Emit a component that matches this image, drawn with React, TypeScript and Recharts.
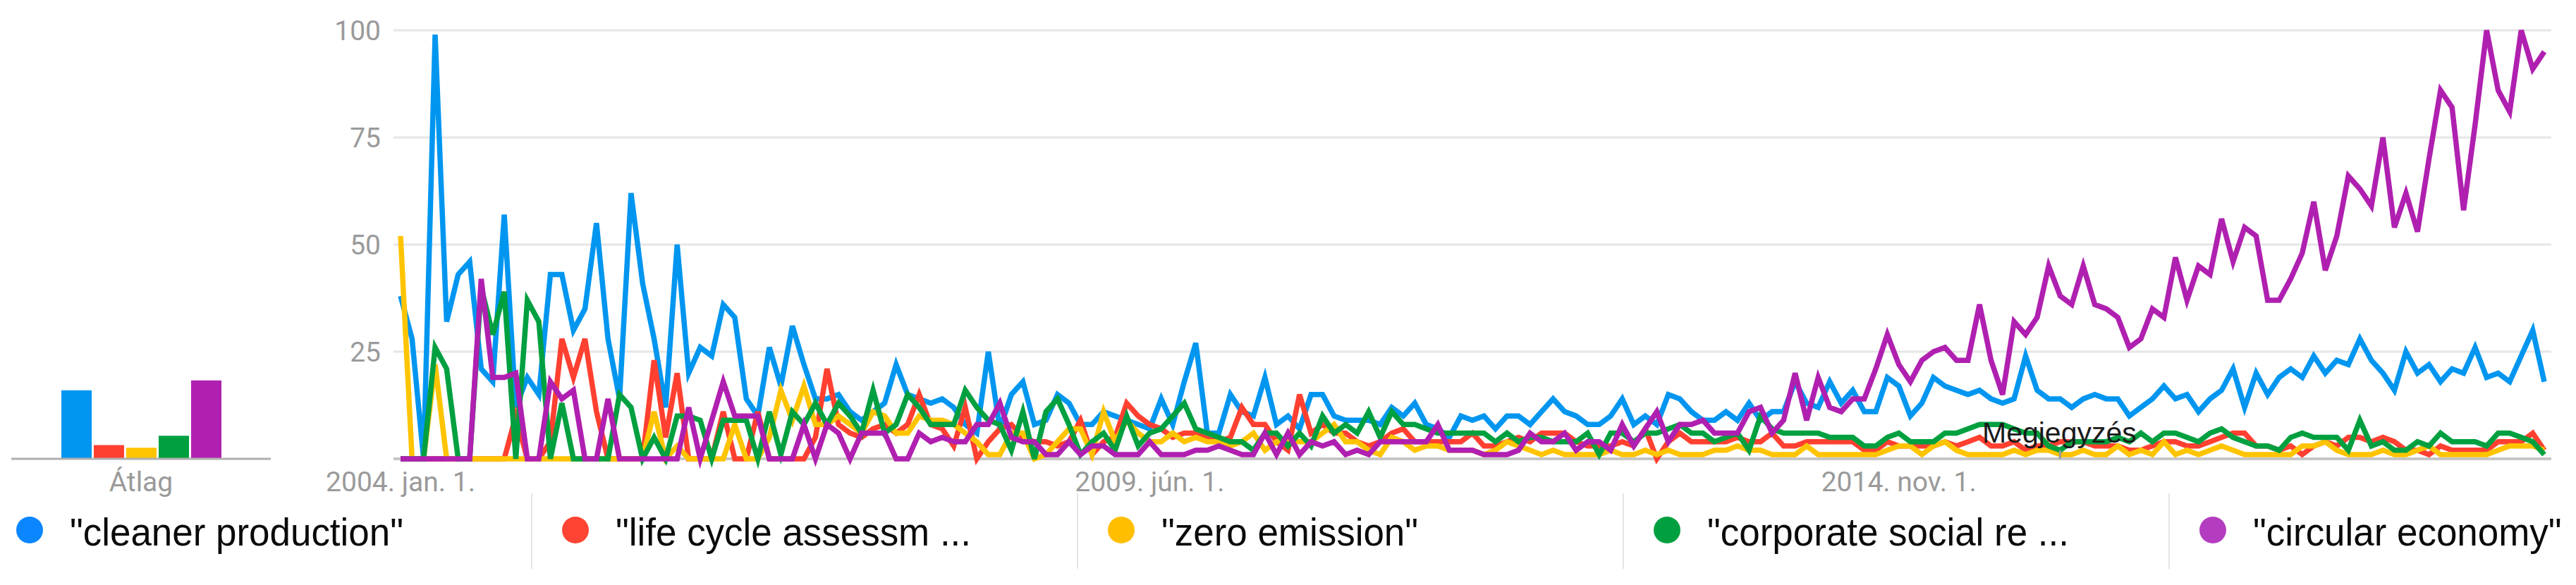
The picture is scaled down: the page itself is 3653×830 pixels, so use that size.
import React from 'react';
import { LineChart, Line, XAxis, YAxis, CartesianGrid, BarChart, Bar, ReferenceLine } from 'recharts';

// ---- categories: monthly, 2004 Jan .. 2019 Jul (187 months)
const months: string[] = Array.from({ length: 187 }, (_, i) => {
  const y = 2004 + Math.floor(i / 12);
  const m = (i % 12) + 1;
  return `${y}-${m < 10 ? '0' + m : m}`;
});

const tickIndices = [0, 65, 130];
const tickLabels = ['2004. jan. 1.', '2009. jún. 1.', '2014. nov. 1.'];
const yTicks = [0, 25, 50, 75, 100];
const noteIndex = 144;
const noteText = 'Megjegyzés';

const seriesNames = ['"cleaner production"', '"life cycle assessm ...', '"zero emission"', '"corporate social re ...', '"circular economy"'];
const seriesKeys = ['cleaner', 'lca', 'zero', 'csr', 'circular'];
const seriesColors = ['#0096F0', '#FF4030', '#FFC400', '#00A040', '#B020B0'];
const legendColors = ['#0A86FF', '#FF4433', '#FFBE00', '#00A040', '#B43CC0'];
const averages = [16, 3.2, 2.6, 5.4, 18.3];

const cleaner = [38, 28, 0, 99, 32, 43, 46, 21, 18, 57, 12, 19, 15, 43, 43, 30, 35, 55, 28, 14,
  62, 41, 28, 12, 50, 20, 26, 24, 36, 33, 14, 10, 26, 17, 31, 22, 14, 14, 15, 11,
  9, 11, 13, 22, 15, 14, 13, 14, 12, 8, 6, 25, 7, 15, 18, 8, 9, 15, 13, 8,
  8, 11, 10, 9, 8, 7, 14, 8, 18, 27, 6, 6, 15, 11, 10, 19, 8, 10, 7, 15,
  15, 10, 9, 9, 9, 8, 12, 10, 13, 8, 7, 5, 10, 9, 10, 7, 10, 10, 8, 11,
  14, 11, 10, 8, 8, 10, 14, 8, 10, 8, 15, 14, 11, 9, 9, 11, 9, 13, 9, 11,
  11, 18, 13, 12, 18, 13, 16, 11, 11, 19, 17, 10, 13, 19, 17, 16, 15, 16, 14, 13,
  14, 24, 16, 14, 14, 12, 14, 15, 14, 14, 10, 12, 14, 17, 14, 15, 11, 14, 16, 21,
  12, 20, 15, 19, 21, 19, 24, 20, 23, 22, 28, 23, 20, 16, 25, 20, 22, 18, 21, 20,
  26, 19, 20, 18, 24, 30, 18];

const lca = [0, 0, 0, 0, 0, 0, 0, 0, 0, 0, 10, 0, 0, 4, 28, 19, 28, 11, 0, 0,
  0, 0, 23, 5, 20, 0, 0, 0, 11, 0, 0, 11, 0, 0, 0, 0, 5, 21, 8, 6,
  5, 7, 8, 6, 8, 15, 8, 7, 3, 12, 0, 4, 7, 8, 5, 4, 4, 3, 4, 9,
  1, 4, 5, 13, 10, 8, 7, 5, 6, 6, 5, 4, 5, 12, 8, 8, 4, 2, 15, 6,
  8, 6, 6, 4, 3, 4, 6, 7, 4, 4, 4, 4, 4, 6, 3, 3, 4, 5, 4, 6,
  6, 6, 4, 3, 3, 3, 4, 3, 7, 0, 4, 6, 4, 4, 4, 4, 5, 4, 4, 6,
  3, 3, 4, 4, 4, 4, 4, 2, 2, 4, 3, 3, 3, 3, 4, 3, 4, 5, 3, 3,
  4, 2, 3, 3, 4, 4, 4, 3, 3, 3, 2, 2, 3, 4, 4, 3, 3, 4, 5, 6,
  6, 3, 3, 2, 3, 1, 3, 4, 3, 5, 5, 4, 5, 4, 2, 2, 1, 3, 2, 2,
  2, 2, 4, 4, 4, 6, 2];

const zero = [52, 0, 0, 22, 0, 0, 0, 0, 0, 0, 0, 0, 0, 0, 0, 0, 0, 0, 0, 0,
  0, 0, 11, 0, 3, 0, 0, 0, 0, 8, 0, 0, 5, 16, 9, 17, 8, 8, 10, 8,
  6, 11, 10, 6, 6, 10, 9, 9, 8, 6, 4, 1, 1, 6, 6, 0, 1, 4, 7, 7,
  1, 11, 4, 9, 6, 4, 4, 6, 4, 5, 4, 4, 3, 4, 6, 2, 4, 4, 4, 4,
  6, 8, 4, 4, 2, 1, 5, 4, 2, 3, 3, 2, 2, 2, 1, 2, 4, 3, 2, 1,
  2, 1, 1, 1, 1, 2, 1, 1, 2, 1, 2, 1, 1, 1, 2, 2, 3, 2, 2, 1,
  1, 1, 3, 1, 1, 1, 1, 1, 1, 2, 3, 3, 1, 3, 4, 2, 1, 1, 1, 1,
  2, 1, 2, 2, 1, 1, 2, 1, 1, 3, 1, 2, 1, 4, 1, 2, 1, 2, 3, 2,
  1, 1, 1, 1, 1, 3, 3, 4, 2, 1, 1, 1, 2, 1, 1, 2, 3, 1, 1, 1,
  1, 1, 2, 3, 3, 3, 2];

const csr = [0, 0, 0, 26, 21, 0, 0, 40, 29, 39, 0, 37, 32, 0, 13, 0, 0, 0, 0, 15,
  12, 0, 5, 0, 10, 10, 9, 0, 9, 9, 9, 0, 11, 1, 11, 8, 13, 8, 13, 10,
  6, 16, 6, 8, 15, 12, 8, 8, 8, 16, 12, 9, 8, 2, 11, 0, 11, 14, 8, 1,
  4, 6, 2, 10, 3, 6, 7, 10, 13, 7, 6, 5, 4, 4, 2, 6, 6, 3, 6, 3,
  10, 6, 8, 6, 11, 5, 11, 8, 8, 7, 6, 6, 6, 6, 6, 4, 6, 4, 5, 5,
  4, 4, 4, 6, 1, 6, 6, 4, 6, 6, 7, 8, 6, 6, 4, 5, 6, 2, 10, 7,
  6, 6, 6, 6, 5, 5, 5, 3, 3, 5, 6, 4, 4, 4, 6, 6, 7, 8, 8, 8,
  7, 6, 6, 3, 2, 4, 4, 4, 4, 5, 4, 6, 4, 6, 6, 5, 4, 6, 7, 5,
  4, 3, 3, 2, 5, 6, 5, 5, 5, 2, 9, 3, 4, 2, 2, 4, 3, 6, 4, 4,
  4, 3, 6, 6, 5, 4, 1];

const circular = [0, 0, 0, 0, 0, 0, 0, 42, 19, 19, 20, 0, 0, 18, 14, 16, 0, 0, 14, 0,
  0, 0, 0, 0, 0, 12, 0, 9, 18, 10, 10, 10, 0, 0, 0, 8, 0, 8, 6, 0,
  6, 6, 6, 0, 0, 6, 4, 5, 4, 4, 8, 8, 13, 5, 4, 4, 1, 1, 4, 1,
  3, 3, 1, 1, 1, 4, 1, 1, 1, 2, 2, 3, 2, 1, 1, 6, 1, 6, 1, 4,
  3, 4, 1, 2, 1, 4, 4, 4, 4, 4, 8, 2, 2, 2, 1, 1, 1, 2, 6, 4,
  4, 6, 2, 4, 4, 2, 8, 3, 7, 11, 4, 8, 8, 9, 6, 6, 6, 11, 12, 6,
  9, 20, 9, 19, 12, 11, 14, 14, 21, 29, 22, 18, 23, 25, 26, 23, 23, 36, 23, 15,
  32, 29, 33, 45, 38, 36, 45, 36, 35, 33, 26, 28, 35, 33, 47, 37, 45, 43, 56, 46,
  54, 52, 37, 37, 42, 48, 60, 44, 52, 66, 63, 59, 75, 54, 62, 53, 70, 86, 82, 58,
  78, 100, 86, 81, 100, 91, 95];

const seriesValues = [cleaner, lca, zero, csr, circular];

const data = months.map((m, i) => {
  const row: Record<string, number | string> = { i, month: m };
  seriesKeys.forEach((k, s) => { row[k] = seriesValues[s][i]; });
  return row;
});

const avgRow: Record<string, number | string> = { name: 'Átlag' };
seriesKeys.forEach((k, s) => { avgRow[k] = averages[s]; });
const avgData = [avgRow];

const AXIS_FONT = 'Roboto, "Liberation Sans", Arial, sans-serif';
const TEXT_FONT = '"Liberation Sans", Arial, sans-serif';

export default function App() {
  return (
    <div style={{ position: 'absolute', left: 0, top: 0, width: 3653, height: 830, background: '#ffffff', overflow: 'hidden' }}>
      <div style={{ position: 'absolute', left: 0, top: 0 }}>
        <LineChart width={3653} height={830} data={data} margin={{ top: 43, right: 35, left: 458, bottom: 119 }}>
          <CartesianGrid vertical={false} horizontalValues={[25, 50, 75, 100]} stroke="#e6e6e6" strokeWidth={3} />
          <CartesianGrid vertical={false} horizontalValues={[0]} stroke="#c6c6c6" strokeWidth={4} />
          <XAxis dataKey="i" type="number" domain={[0, 186]} ticks={tickIndices} interval={0}
            tickFormatter={(v: number) => tickLabels[tickIndices.indexOf(v)] ?? ''}
            padding={{ left: 10, right: 10 }} axisLine={false} tickLine={false} tickSize={0} tickMargin={18} height={60}
            tick={{ fill: '#9a9a9a', fontSize: 39, fontFamily: AXIS_FONT }} />
          <YAxis domain={[0, 100]} ticks={yTicks} interval={0} tickFormatter={(v: number) => (v === 0 ? '' : String(v))}
            axisLine={false} tickLine={false} tickSize={0} tickMargin={18} width={100}
            tick={{ fill: '#9a9a9a', fontSize: 39, fontFamily: AXIS_FONT }} />
          {seriesKeys.map((k, s) => (
            <Line key={k} type="linear" dataKey={k} stroke={seriesColors[s]} strokeWidth={7.5} dot={false}
              activeDot={false} isAnimationActive={false} strokeLinejoin="miter" />
          ))}
          <ReferenceLine segment={[{ x: noteIndex, y: 0 }, { x: noteIndex, y: 2 }]} stroke="#9a9a9a" strokeWidth={3} />
        </LineChart>
      </div>
      <div style={{ position: 'absolute', left: 0, top: 0 }}>
        <BarChart width={420} height={830} data={avgData} margin={{ top: 43, right: 36, left: 16, bottom: 119 }} barCategoryGap={72} barGap={3}>
          <XAxis dataKey="name" axisLine={{ stroke: '#b0b0b0', strokeWidth: 3 }} tickLine={false} tickSize={0} tickMargin={18} height={60}
            tick={{ fill: '#9a9a9a', fontSize: 39, fontFamily: AXIS_FONT }} />
          <YAxis hide domain={[0, 100]} />
          {seriesKeys.map((k, s) => (
            <Bar key={k} dataKey={k} fill={seriesColors[s]} barSize={43} isAnimationActive={false} />
          ))}
        </BarChart>
      </div>
      <div style={{ position: 'absolute', left: 2811, top: 589, fontFamily: TEXT_FONT, fontSize: 41, color: '#1a1a1a', lineHeight: '50px', whiteSpace: 'nowrap' }}>
        {noteText}
      </div>
      {seriesNames.map((name, s) => {
        const sepX = -21 + s * 774;
        return (
          <div key={name} style={{ position: 'absolute', left: sepX, top: 700, width: 774, height: 107 }}>
            {s > 0 && <div style={{ position: 'absolute', left: 0, top: 0, width: 2, height: 107, background: '#e4e4e4' }} />}
            <div style={{ position: 'absolute', left: 63 - 19, top: 52 - 19, width: 38, height: 38, borderRadius: 19, background: legendColors[s] }} />
            <div style={{ position: 'absolute', left: 120, top: 25, fontFamily: TEXT_FONT, fontSize: 56, lineHeight: '60px', color: '#0a0a0a',
              whiteSpace: 'nowrap', transform: 'scaleX(0.945)', transformOrigin: 'left center' }}>
              {name}
            </div>
          </div>
        );
      })}
    </div>
  );
}
